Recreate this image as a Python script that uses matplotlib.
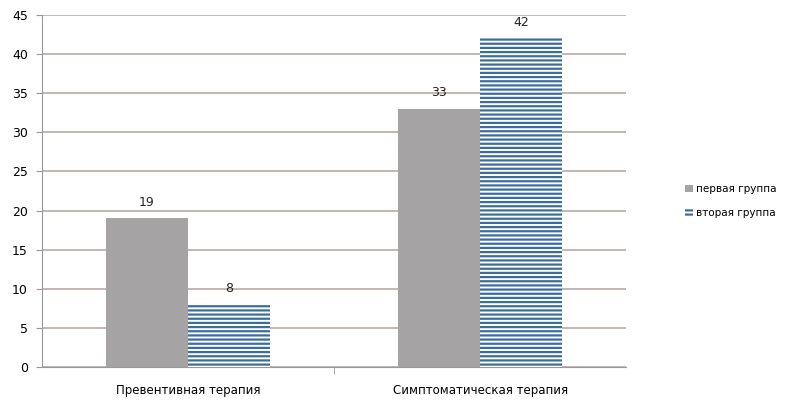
import numpy as np
import matplotlib.pyplot as plt

categories = ["Превентивная терапия", "Симптоматическая терапия"]
group1 = [19, 33]
group2 = [8, 42]
series_names = ["первая группа", "вторая группа"]

plt.rcParams['font.family'] = ['DejaVu Sans']
plt.rcParams['hatch.linewidth'] = 1.6

fig = plt.figure(figsize=(7.86, 4.0), dpi=100)
ax = fig.add_axes([0.053, 0.0825, 0.744, 0.88])

x = np.arange(len(categories))
w = 0.28
b1 = ax.bar(x - w / 2, group1, w, color="#a5a3a3", label=series_names[0], zorder=3)
b2 = ax.bar(x + w / 2, group2, w, color="white", edgecolor="#3d6d9c", hatch="----",
            linewidth=0, label=series_names[1], zorder=3)

for bars in (b1, b2):
    for r in bars:
        ax.text(r.get_x() + r.get_width() / 2, r.get_height() + 1.2, str(int(r.get_height())),
                ha="center", va="bottom", fontsize=9, color="#222222", zorder=4)

ax.set_xlim(-0.5, 1.5)
ax.set_ylim(0, 45)
ax.set_yticks(range(0, 46, 5))
ax.yaxis.grid(True, color="#b9a9a6", linewidth=1.2, zorder=0)
ax.set_xticks(x)
ax.set_xticklabels(categories, fontsize=8.5)
ax.set_xticks([0.5], minor=True)
ax.tick_params(axis="x", which="major", length=0, pad=12)
ax.tick_params(axis="x", which="minor", length=5, color="#999999")
ax.tick_params(axis="y", length=4, color="#999999", labelsize=9, pad=6)

for s in ("top", "right"):
    ax.spines[s].set_visible(False)
ax.spines["left"].set_color("#999999")
ax.spines["bottom"].set_color("#999999")

fig.legend(handles=[b1, b2], labels=series_names, loc="center left",
           bbox_to_anchor=(0.872, 0.498), frameon=False, fontsize=7.5,
           handlelength=0.7, handleheight=0.7, handletextpad=0.3, labelspacing=1.3,
           borderaxespad=0, borderpad=0)

fig.savefig("out.png", dpi=100)
